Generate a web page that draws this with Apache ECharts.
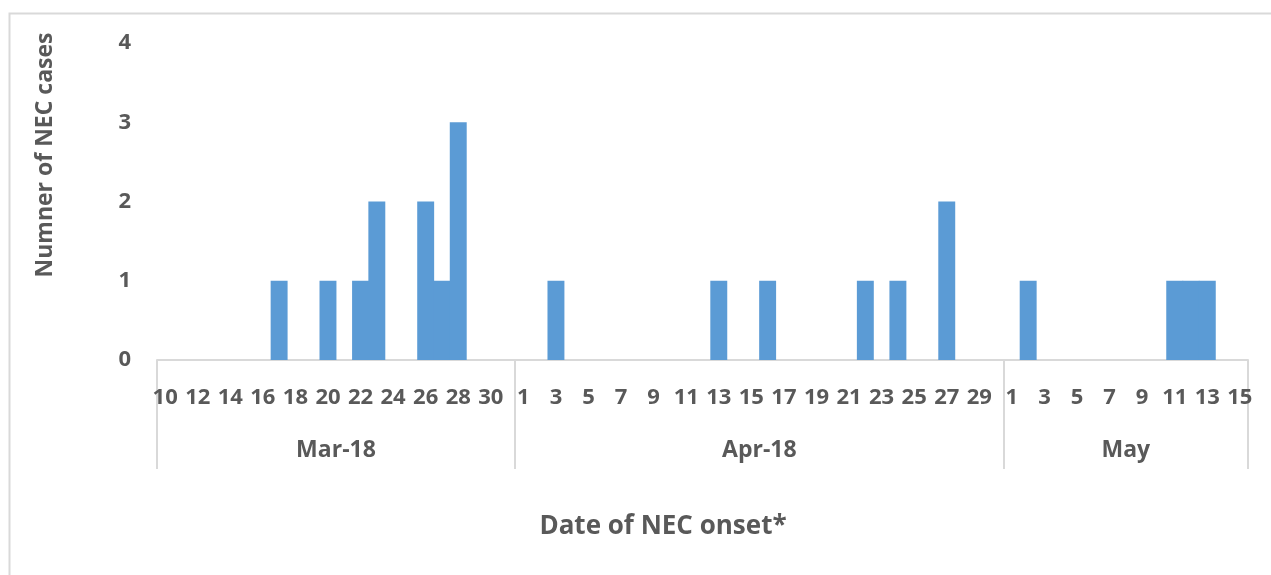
<!DOCTYPE html>
<html>
<head>
<meta charset="utf-8">
<script src="https://cdn.jsdelivr.net/npm/echarts@6/dist/echarts.min.js"></script>
<style>
html,body{margin:0;padding:0;background:#fff;}
#chart{width:1271px;height:575px;}
</style>
</head>
<body>
<div id="chart"></div>
<script>
// Data
const marchDays = [10,11,12,13,14,15,16,17,18,19,20,21,22,23,24,25,26,27,28,29,30,31];
const aprilDays = [1,2,3,4,5,6,7,8,9,10,11,12,13,14,15,16,17,18,19,20,21,22,23,24,25,26,27,28,29,30];
const mayDays = [1,2,3,4,5,6,7,8,9,10,11,12,13,14,15];
const marchCases = [0,0,0,0,0,0,0,1,0,0,1,0,1,2,0,0,2,1,3,0,0,0];
const aprilCases = [0,0,1,0,0,0,0,0,0,0,0,0,1,0,0,1,0,0,0,0,0,1,0,1,0,0,2,0,0,0];
const mayCases = [0,1,0,0,0,0,0,0,0,0,1,1,1,0,0];
const monthLabels = ['Mar-18','Apr-18','May'];
const yTicks = [0,1,2,3,4];

const categories = [].concat(
  marchDays.map(d => 'Mar|' + d),
  aprilDays.map(d => 'Apr|' + d),
  mayDays.map(d => 'May|' + d)
);
const cases = [].concat(marchCases, aprilCases, mayCases);

// month boundaries (category index of first day of each month)
const monthStarts = [0, marchDays.length, marchDays.length + aprilDays.length];
const monthLens = [marchDays.length, aprilDays.length, mayDays.length];
// label index: category whose centre is nearest the month middle
const monthLabelIdx = monthStarts.map((s, i) => s + Math.floor(monthLens[i] / 2) - (monthLens[i] % 2 === 0 ? 1 : 0));
const monthLabelShift = monthLens.map(l => l % 2 === 0 ? 'shift' : 'noshift');

const FONT = 'Open Sans';
const TXT = '#595959';
const LINE = '#d9d9d9';
const BAR = '#5b9bd5';

const chart = echarts.init(document.getElementById('chart'), null, {renderer: 'canvas'});
chart.setOption({
  animation: false,
  backgroundColor: '#ffffff',
  grid: {left: 157, right: 23, top: 43, bottom: 215, containLabel: false},
  xAxis: [{
    type: 'category',
    data: categories,
    position: 'bottom',
    axisLine: {show: true, lineStyle: {color: LINE, width: 2}},
    axisTick: {
      show: true,
      length: 109,
      interval: (idx) => monthStarts.indexOf(idx) >= 0,
      lineStyle: {color: LINE, width: 2}
    },
    axisLabel: {
      interval: 1,
      margin: 27,
      color: TXT,
      fontFamily: FONT,
      fontWeight: 'bold',
      fontSize: 22,
      formatter: (v) => v.split('|')[1]
    },
    splitLine: {show: false}
  }, {
    type: 'category',
    data: categories,
    position: 'bottom',
    gridIndex: 0,
    axisLine: {show: false},
    axisTick: {show: false},
    axisLabel: {
      interval: (idx) => monthLabelIdx.indexOf(idx) >= 0,
      margin: 79,
      color: TXT,
      fontFamily: FONT,
      fontWeight: 'bold',
      fontSize: 23,
      formatter: (v, idx) => {
        const m = monthLabelIdx.indexOf(idx);
        return monthLabelShift[m] === 'shift' ? '{s|' + monthLabels[m] + '}' : '{n|' + monthLabels[m] + '}';
      },
      rich: {
        s: {padding: [0, 0, 0, 16], color: TXT, fontFamily: FONT, fontWeight: 'bold', fontSize: 23},
        n: {color: TXT, fontFamily: FONT, fontWeight: 'bold', fontSize: 23}
      }
    },
    splitLine: {show: false}
  }],
  yAxis: {
    type: 'value',
    min: yTicks[0],
    max: yTicks[yTicks.length - 1],
    interval: 1,
    axisLine: {show: false},
    axisTick: {show: false},
    splitLine: {show: false},
    axisLabel: {
      margin: 26,
      color: TXT,
      fontFamily: FONT,
      fontWeight: 'bold',
      fontSize: 22
    }
  },
  series: [{
    type: 'bar',
    data: cases,
    xAxisIndex: 0,
    barWidth: '104%',
    itemStyle: {color: BAR}
  }],
  graphic: [
    {
      type: 'rect',
      left: 7, top: 11,
      shape: {x: 0, y: 0, width: 1300, height: 600},
      style: {fill: 'none', stroke: LINE, lineWidth: 2},
      silent: true,
      z: -10
    },
    {
      type: 'text',
      x: 45, y: 155,
      rotation: Math.PI / 2,
      style: {
        text: 'Numner of NEC cases',
        fill: TXT,
        font: 'bold 23px "' + FONT + '"',
        textAlign: 'center',
        textVerticalAlign: 'middle'
      }
    },
    {
      type: 'text',
      x: 663, y: 527,
      style: {
        text: 'Date of NEC onset*',
        fill: TXT,
        font: 'bold 26px "' + FONT + '"',
        textAlign: 'center',
        textVerticalAlign: 'middle'
      }
    }
  ]
});
</script>
</body>
</html>
